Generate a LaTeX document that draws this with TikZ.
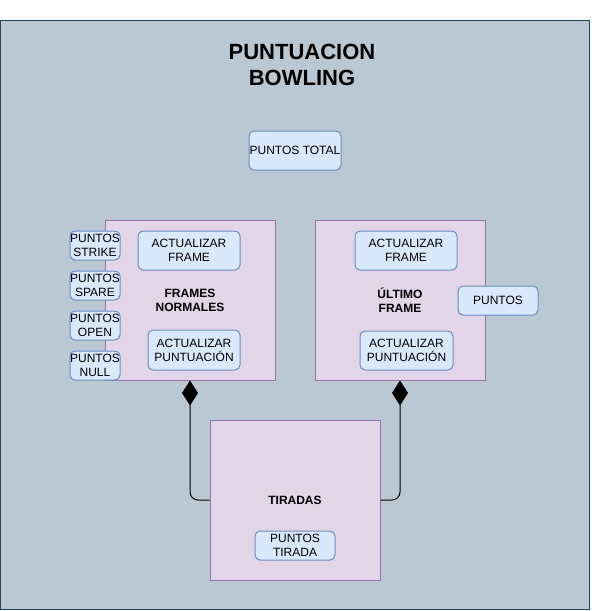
\documentclass[tikz,border=0pt]{standalone}
\usepackage{fontspec}
\setmainfont{Liberation Sans}
\usetikzlibrary{arrows.meta,positioning}
\definecolor{canvasgray}{HTML}{BAC8D3}
\definecolor{canvasedge}{HTML}{23445D}
\definecolor{softlilac}{HTML}{E1D5E7}
\definecolor{lilacedge}{HTML}{9673A6}
\definecolor{softblue}{HTML}{DAE8FC}
\definecolor{blueedge}{HTML}{6C8EBF}
\tikzset{
  block/.style={draw=lilacedge, fill=softlilac, line width=1pt, minimum width=170pt, minimum height=160pt, inner sep=0pt, align=center, font=\bfseries\fontsize{12}{14}\selectfont},
  item/.style={draw=blueedge, fill=softblue, line width=1pt, rounded corners=5pt, align=center, inner sep=0pt, font=\fontsize{12}{14}\selectfont},
  assoc/.style={{Diamond[length=25pt,width=16pt]}-, line width=1pt, rounded corners=8pt},
}
\begin{document}
\begin{tikzpicture}[x=1pt, y=-1pt]
  \useasboundingbox (0,0) rectangle (592,611);
  \fill[canvasgray, draw=canvasedge, line width=1pt] (0.5,20.5) rectangle (589.5,609.5);
  \node[font=\bfseries\fontsize{22}{26}\selectfont, align=center] (title) at (302,65) {PUNTUACION\\BOWLING};
  \node[item, minimum width=92pt, minimum height=39pt] (total) at (295,150.5) {PUNTOS TOTAL};

  % frames normales
  \node[block] (fnorm) at (190,300) {FRAMES\\NORMALES};
  \node[item, minimum width=102pt, minimum height=39pt] (fnframe) at (189,250.5) {ACTUALIZAR\\FRAME};
  \node[item, minimum width=92pt, minimum height=40pt] (fnpunt) at (194,350) {ACTUALIZAR\\PUNTUACIÓN};
  \node[item, minimum width=50pt, minimum height=29pt] (strike) at (95,245.5) {PUNTOS\\STRIKE};
  \node[item, minimum width=50pt, minimum height=29pt, below=10pt of strike] (spare) {PUNTOS\\SPARE};
  \node[item, minimum width=50pt, minimum height=29pt, below=10pt of spare] (open) {PUNTOS\\OPEN};
  \node[item, minimum width=50pt, minimum height=29pt, below=10pt of open] (null) {PUNTOS\\NULL};

  % ultimo frame
  \node[block] (ultimo) at (400,300) {ÚLTIMO\\FRAME};
  \node[item, minimum width=102pt, minimum height=39pt] (ufframe) at (406,250.5) {ACTUALIZAR\\FRAME};
  \node[item, minimum width=93pt, minimum height=39pt] (ufpunt) at (406.5,350.5) {ACTUALIZAR\\PUNTUACIÓN};
  \node[item, minimum width=80pt, minimum height=29pt] (puntos) at (498,300.5) {PUNTOS};

  % tiradas
  \node[block] (tiradas) at (295,500) {TIRADAS};
  \node[item, minimum width=80pt, minimum height=29pt] (ptirada) at (295,545.5) {PUNTOS\\TIRADA};

  \draw[assoc] (fnorm.south) |- (tiradas.west);
  \draw[assoc] (ultimo.south) |- (tiradas.east);
\end{tikzpicture}
\end{document}
